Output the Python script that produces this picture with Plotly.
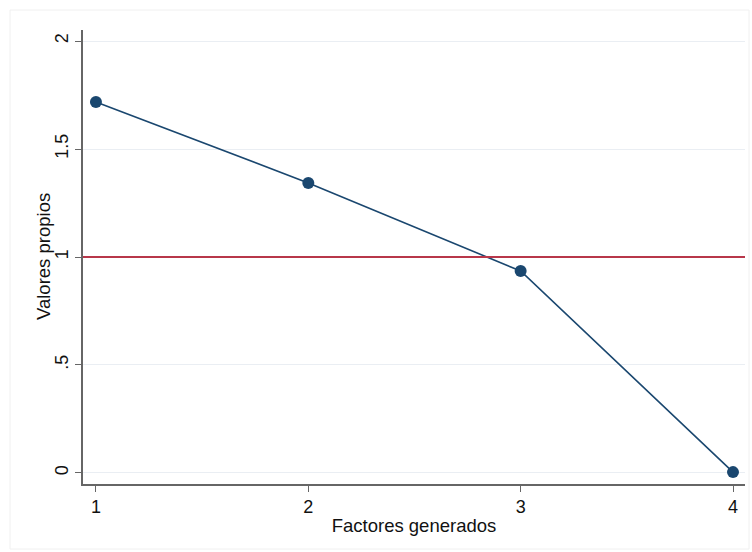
import plotly.graph_objects as go

factors = [1, 2, 3, 4]
eigenvalues = [1.718, 1.343, 0.935, 0.004]
threshold = 1.0
y_ticks = [0, 0.5, 1, 1.5, 2]
y_ticklabels = ["0", ".5", "1", "1.5", "2"]
x_ticks = [1, 2, 3, 4]

W, H = 752, 552
L, R, T, B = 83, 7, 30, 68
PW, PH = W - L - R, H - T - B

fig = go.Figure()
fig.add_trace(go.Scatter(
    x=factors, y=eigenvalues, mode="lines+markers",
    line=dict(color="#1a476f", width=1.6),
    marker=dict(color="#1a476f", size=12),
    showlegend=False, cliponaxis=False,
))
fig.add_shape(type="line", xref="paper", yref="y", x0=0, x1=1, y0=threshold, y1=threshold,
              line=dict(color="#b8374a", width=1.8), layer="above")

# faint outer frame
fig.add_shape(type="rect", xref="paper", yref="paper",
              x0=(10 - L) / PW, x1=(749 - L) / PW,
              y0=(H - B - 549) / PH, y1=(H - B - 10) / PH,
              line=dict(color="#f0f0f0", width=1), layer="below")

# y axis title placed precisely
fig.add_annotation(text="Valores propios", textangle=-90, showarrow=False,
                   xref="paper", yref="paper", x=(43 - L) / PW, y=0.5,
                   xanchor="center", yanchor="middle", font=dict(size=18.5))

fig.update_layout(
    width=W, height=H,
    margin=dict(l=L, r=R, t=T, b=B),
    paper_bgcolor="white", plot_bgcolor="white",
    font=dict(family="Liberation Sans, Arial, sans-serif", size=18, color="#111111"),
    xaxis=dict(
        range=[0.939, 4.0565], tickvals=x_ticks, ticktext=[str(v) for v in x_ticks],
        showgrid=False, zeroline=False,
        showline=True, linecolor="#666666", linewidth=1.5,
        ticks="outside", ticklen=6, tickcolor="#666666", tickwidth=1.2,
        tickfont=dict(size=18),
        title=dict(text="Factores generados", font=dict(size=18.5), standoff=3),
    ),
    yaxis=dict(
        range=[-0.051, 2.051], tickvals=y_ticks, ticktext=y_ticklabels,
        tickangle=-90,
        showgrid=True, gridcolor="#eaeef3", gridwidth=1.2, zeroline=False,
        showline=True, linecolor="#666666", linewidth=1.5,
        ticks="outside", ticklen=6, tickcolor="#666666", tickwidth=1.2,
        tickfont=dict(size=18),
    ),
)

fig.write_html("out.html")
